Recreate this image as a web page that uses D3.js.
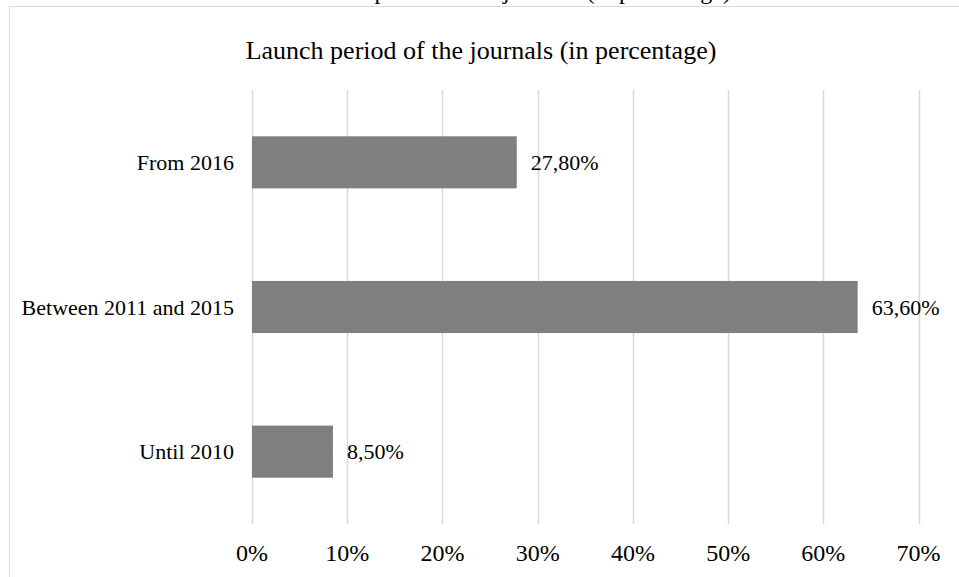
<!DOCTYPE html>
<html><head><meta charset="utf-8">
<script src="https://cdn.jsdelivr.net/npm/d3@7"></script>
<style>
body{margin:0;background:#fff;}
text{font-family:"Liberation Serif","Times New Roman",serif;fill:#000;}
</style></head>
<body><svg id="c" width="959" height="577"></svg>
<script>
const categories = ["From 2016", "Between 2011 and 2015", "Until 2010"];
const values = [27.8, 63.6, 8.5];
const valueLabels = ["27,80%", "63,60%", "8,50%"];
const ticks = [0, 10, 20, 30, 40, 50, 60, 70];
const title = "Launch period of the journals (in percentage)";

const svg = d3.select("#c");
// caption above the chart frame, cut off by the top edge
svg.append("text").attr("x", 731).attr("y", -1).attr("text-anchor", "end")
  .style("font-size", "24px").text(title);
svg.append("rect").attr("x", 9.5).attr("y", 6.5).attr("width", 1000).attr("height", 1000)
  .attr("fill", "#fff").attr("stroke", "#d9d9d9").attr("stroke-width", 1);

const m = {left: 252, top: 90, bottom: 524, right: 918.6};
const x = d3.scaleLinear().domain([0, 70]).range([m.left, m.right]);
const y = d3.scaleBand().domain(categories).range([m.top, m.bottom]).paddingInner(0.64).paddingOuter(0.32);

svg.append("text").attr("x", 481).attr("y", 59).attr("text-anchor", "middle")
  .style("font-size", "26px").text(title);

svg.append("g").selectAll("line").data(ticks).join("line")
  .attr("x1", d => Math.round(x(d)) + 0.5).attr("x2", d => Math.round(x(d)) + 0.5)
  .attr("y1", m.top).attr("y2", m.bottom).attr("stroke", "#d9d9d9").attr("stroke-width", 1.5);

svg.append("g").selectAll("rect").data(categories).join("rect")
  .attr("x", x(0)).attr("y", d => y(d)).attr("height", y.bandwidth())
  .attr("width", (d, i) => x(values[i]) - x(0)).attr("fill", "#7f7f7f");

svg.append("g").selectAll("text").data(categories).join("text")
  .attr("x", (d, i) => x(values[i]) + 14).attr("y", d => y(d) + y.bandwidth() / 2)
  .attr("dy", "0.35em").style("font-size", "22px").text((d, i) => valueLabels[i]);

svg.append("g").selectAll("text").data(categories).join("text")
  .attr("x", 234).attr("y", d => y(d) + y.bandwidth() / 2).attr("dy", "0.35em")
  .attr("text-anchor", "end").style("font-size", "22px").text(d => d);

svg.append("g").selectAll("text").data(ticks).join("text")
  .attr("x", d => x(d)).attr("y", 561).attr("text-anchor", "middle")
  .style("font-size", "24px").text(d => d + "%");
</script></body></html>
